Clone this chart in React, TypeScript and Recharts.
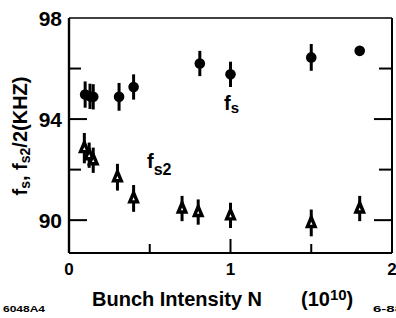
import React from 'react';
import { ScatterChart, Scatter, XAxis, YAxis, ErrorBar, ReferenceDot, Label } from 'recharts';

// f_s (filled circles)
const fsIntensity = [0.1, 0.13, 0.15, 0.31, 0.4, 0.81, 1.0, 1.5, 1.8];
const fsValues = [94.97, 94.9, 94.88, 94.88, 95.27, 96.2, 95.77, 96.44, 96.7];
const fsErrors = [0.52, 0.5, 0.5, 0.55, 0.5, 0.5, 0.5, 0.53, 0];

// f_s2 / 2 (open triangles)
const fs2Intensity = [0.095, 0.125, 0.15, 0.3, 0.4, 0.7, 0.8, 1.0, 1.5, 1.8];
const fs2Values = [92.85, 92.57, 92.37, 91.7, 90.86, 90.46, 90.32, 90.19, 89.89, 90.46];
const fs2Errors = [0.6, 0.5, 0.5, 0.53, 0.53, 0.5, 0.5, 0.5, 0.53, 0.5];

const yTicks = [90, 92, 94, 96, 98];
const yLabeledTicks = [90, 94, 98];
const yMajorTicks = [90, 94];
const yRightTicks = [90, 92, 94, 96];
const xTicks = [0, 0.5, 1, 1.5, 2];
const xLabeledTicks = [0, 1, 2];
const xMajorTicks = [1];
const xTopTicks = [0.5, 1, 1.5];

const fsData = fsIntensity.map((n, i) => ({ n, v: fsValues[i], err: fsErrors[i] }));
const fs2Data = fs2Intensity.map((n, i) => ({ n, v: fs2Values[i], err: fs2Errors[i] }));

const FONT = '"Liberation Sans", Arial, Helvetica, sans-serif';
const INK = '#000';

const LeftTick = (p: any) => {
  const v = p.payload.value;
  const len = v === 98 ? 0 : yMajorTicks.includes(v) ? 18 : 12;
  return (
    <g>
      {len > 0 && <line x1={p.x} x2={p.x + len} y1={p.y} y2={p.y} stroke={INK} strokeWidth={2} />}
      {yLabeledTicks.includes(v) && (
        <text x={p.x - 7} y={p.y + 7.5} textAnchor="end" fontSize={21} fontWeight="bold" fontFamily={FONT} fill={INK}>
          {v}
        </text>
      )}
    </g>
  );
};

const RightTick = (p: any) => {
  const v = p.payload.value;
  const len = yMajorTicks.includes(v) ? 18 : 13;
  return <line x1={p.x} x2={p.x - len} y1={p.y} y2={p.y} stroke={INK} strokeWidth={2} />;
};

const TopTick = (p: any) => {
  const v = p.payload.value;
  const len = xMajorTicks.includes(v) ? 16 : 10;
  return <line x1={p.x} x2={p.x} y1={p.y} y2={p.y + len} stroke={INK} strokeWidth={2} />;
};

const BottomTick = (p: any) => {
  const v = p.payload.value;
  const len = v === 0 || v === 2 ? 0 : xMajorTicks.includes(v) ? 14 : 9;
  return (
    <g>
      {len > 0 && <line x1={p.x} x2={p.x} y1={p.y} y2={p.y - len} stroke={INK} strokeWidth={2} />}
      {xLabeledTicks.includes(v) && (
        <text x={p.x} y={p.y + 22} textAnchor="middle" fontSize={17} fontWeight="bold" fontFamily={FONT} fill={INK}>
          {v}
        </text>
      )}
    </g>
  );
};

const XLabels = () => (
  <g fontFamily={FONT} fontWeight="bold" fill={INK}>
    <text x={92} y={306} fontSize={20}>Bunch Intensity N</text>
    <text x={301} y={306} fontSize={20}>
      (10<tspan dy={-6} fontSize={15}>10</tspan>
      <tspan dy={6}>)</tspan>
    </text>
    <text x={3} y={312} fontSize={9} textLength={42} lengthAdjust="spacingAndGlyphs">6048A4</text>
    <text x={373} y={312} fontSize={9} textLength={30} lengthAdjust="spacingAndGlyphs">6-88</text>
  </g>
);

const YLabel = () => (
  <text transform="translate(27,136) rotate(-90)" textAnchor="middle" fontSize={20} fontWeight="bold" fontFamily={FONT} fill={INK}>
    f<tspan dy={3} fontSize={14}>s</tspan>
    <tspan dy={-3}>, f</tspan>
    <tspan dy={3} fontSize={14}>s2</tspan>
    <tspan dy={-3}>/2(KHZ)</tspan>
  </text>
);

const Circle = (p: any) => <circle cx={p.cx} cy={p.cy} r={5.3} fill={INK} />;
const Triangle = (p: any) => (
  <path
    d={`M${p.cx},${p.cy - 5.5}L${p.cx + 3.8},${p.cy + 3.5}L${p.cx - 3.8},${p.cy + 3.5}Z`}
    fill="#fff"
    stroke={INK}
    strokeWidth={3.4}
  />
);

const FsText = (p: any) => (
  <text x={p.cx} y={p.cy} fontFamily={FONT} fontWeight="bold" fontSize={20} fill={INK}>
    f<tspan dy={3} fontSize={15}>s</tspan>
  </text>
);
const Fs2Text = (p: any) => (
  <text x={p.cx} y={p.cy} fontFamily={FONT} fontWeight="bold" fontSize={20} fill={INK}>
    f<tspan dy={7} fontSize={16}>s2</tspan>
  </text>
);

export default function App() {
  return (
    <div style={{ position: 'absolute', left: 0, top: 0, width: 396, height: 318, background: '#fff' }}>
      <ScatterChart width={396} height={318} margin={{ top: 0, right: 0, bottom: 0, left: 0 }}>
        <XAxis
          xAxisId="b"
          dataKey="n"
          type="number"
          domain={[0, 2]}
          allowDataOverflow
          ticks={xTicks}
          interval={0}
          orientation="bottom"
          height={65}
          tickSize={0}
          tickMargin={0}
          tickLine={false}
          axisLine={{ stroke: INK, strokeWidth: 2 }}
          tick={(p: any) => <BottomTick {...p} />}
        >
          <Label content={<XLabels />} />
        </XAxis>
        <XAxis
          xAxisId="t"
          type="number"
          domain={[0, 2]}
          allowDataOverflow
          ticks={xTopTicks}
          interval={0}
          orientation="top"
          height={18}
          tickSize={0}
          tickMargin={0}
          tickLine={false}
          axisLine={{ stroke: INK, strokeWidth: 1.6 }}
          tick={(p: any) => <TopTick {...p} />}
        />
        <YAxis
          yAxisId="l"
          dataKey="v"
          type="number"
          domain={[88.7, 98]}
          allowDataOverflow
          ticks={yTicks}
          interval={0}
          orientation="left"
          width={69}
          tickSize={0}
          tickMargin={0}
          tickLine={false}
          axisLine={{ stroke: INK, strokeWidth: 2.4 }}
          tick={(p: any) => <LeftTick {...p} />}
        >
          <Label content={<YLabel />} />
        </YAxis>
        <YAxis
          yAxisId="r"
          type="number"
          domain={[88.7, 98]}
          allowDataOverflow
          ticks={yRightTicks}
          interval={0}
          orientation="right"
          width={4}
          tickSize={0}
          tickMargin={0}
          tickLine={false}
          axisLine={{ stroke: INK, strokeWidth: 2 }}
          tick={(p: any) => <RightTick {...p} />}
        />
        <Scatter data={fs2Data} xAxisId="b" yAxisId="l" shape={Triangle} isAnimationActive={false}>
          <ErrorBar dataKey="err" direction="y" width={0} stroke={INK} strokeWidth={3} />
        </Scatter>
        <Scatter data={fsData} xAxisId="b" yAxisId="l" shape={Circle} isAnimationActive={false}>
          <ErrorBar dataKey="err" direction="y" width={0} stroke={INK} strokeWidth={3} />
        </Scatter>
        <ReferenceDot xAxisId="b" yAxisId="l" x={0.96} y={94.36} r={0} shape={FsText} />
        <ReferenceDot xAxisId="b" yAxisId="l" x={0.483} y={92.06} r={0} shape={Fs2Text} />
      </ScatterChart>
    </div>
  );
}
